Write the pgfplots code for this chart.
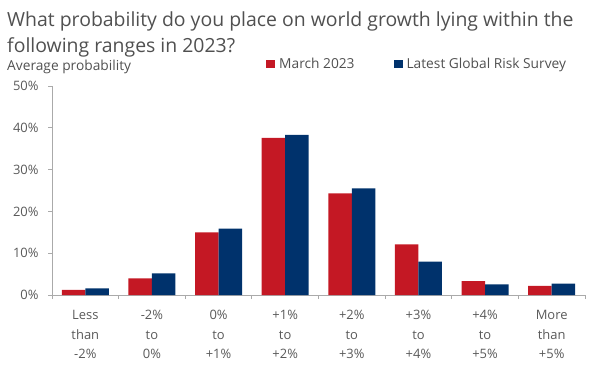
\documentclass[border=0pt]{standalone}
\usepackage{pgfplots}
\pgfplotsset{compat=1.18}
\usepackage{fontspec}
\setmainfont{Open Sans}
\definecolor{cred}{RGB}{196,24,36}
\definecolor{cblue}{RGB}{0,50,108}
\definecolor{ctext}{RGB}{80,80,80}
\definecolor{ctick}{RGB}{89,89,89}
\definecolor{caxis}{RGB}{170,170,170}
\begin{document}
\begin{tikzpicture}[x=1bp,y=1bp]
\path[use as bounding box] (0,0) rectangle (600,383);
\node[anchor=base west,inner sep=0pt,text=ctext,font=\fontsize{19.5}{22}\selectfont] at (7,356.5) {What probability do you place on world growth lying within the};
\node[anchor=base west,inner sep=0pt,text=ctext,font=\fontsize{19.5}{22}\selectfont] at (7,330.5) {following ranges in 2023?};
\node[anchor=base west,inner sep=0pt,text=ctext,font=\fontsize{13.8}{16}\selectfont] at (7,312.3) {Average probability};
\begin{axis}[
  at={(52bp,88bp)}, anchor=south west,
  scale only axis, width=533bp, height=209bp,
  xmin=-0.5, xmax=7.5, ymin=0, ymax=50,
  ybar=0pt, bar width=23.5bp,
  axis x line*=bottom, axis y line*=left,
  axis line style={caxis, line width=0.8pt},
  every tick/.style={caxis, line width=0.8pt},
  tick align=outside,
  xtick={0,...,7}, major x tick style={draw=none},
  minor xtick={-0.5,0.5,...,7.5}, minor tick length=4bp,
  ytick={0,10,20,30,40,50}, major tick length=4bp,
  yticklabels={0\%,10\%,20\%,30\%,40\%,50\%},
  xticklabels={Less\\than\\-2\%,-2\%\\to\\0\%,0\%\\to\\+1\%,+1\%\\to\\+2\%,+2\%\\to\\+3\%,+3\%\\to\\+4\%,+4\%\\to\\+5\%,More\\than\\+5\%},
  xticklabel style={align=center, text=ctick, font=\fontsize{13}{19.5}\selectfont, anchor=north, yshift=-8bp},
  yticklabel style={text=ctick, font=\fontsize{13}{15}\selectfont, xshift=-6bp},
  legend columns=2,
  legend style={draw=none, fill=none, at={(axis description cs:0.4015,1)}, anchor=west, yshift=22bp,
    font=\fontsize{13.8}{16}\selectfont, text=ctext, inner sep=0pt,
    /tikz/column 2/.style={column sep=39bp},
    nodes={inner sep=0pt}},
  legend image code/.code={\fill[#1] (0bp,-4bp) rectangle (9bp,4bp); \path (13bp,0bp);},
]
\addplot[fill=cred, draw=none] coordinates {(0,1.2) (1,4.0) (2,15.0) (3,37.6) (4,24.3) (5,12.1) (6,3.35) (7,2.2)};
\addlegendentry{March 2023}
\addplot[fill=cblue, draw=none] coordinates {(0,1.6) (1,5.2) (2,15.9) (3,38.3) (4,25.5) (5,8.0) (6,2.55) (7,2.7)};
\addlegendentry{Latest Global Risk Survey}
\end{axis}
\end{tikzpicture}
\end{document}
